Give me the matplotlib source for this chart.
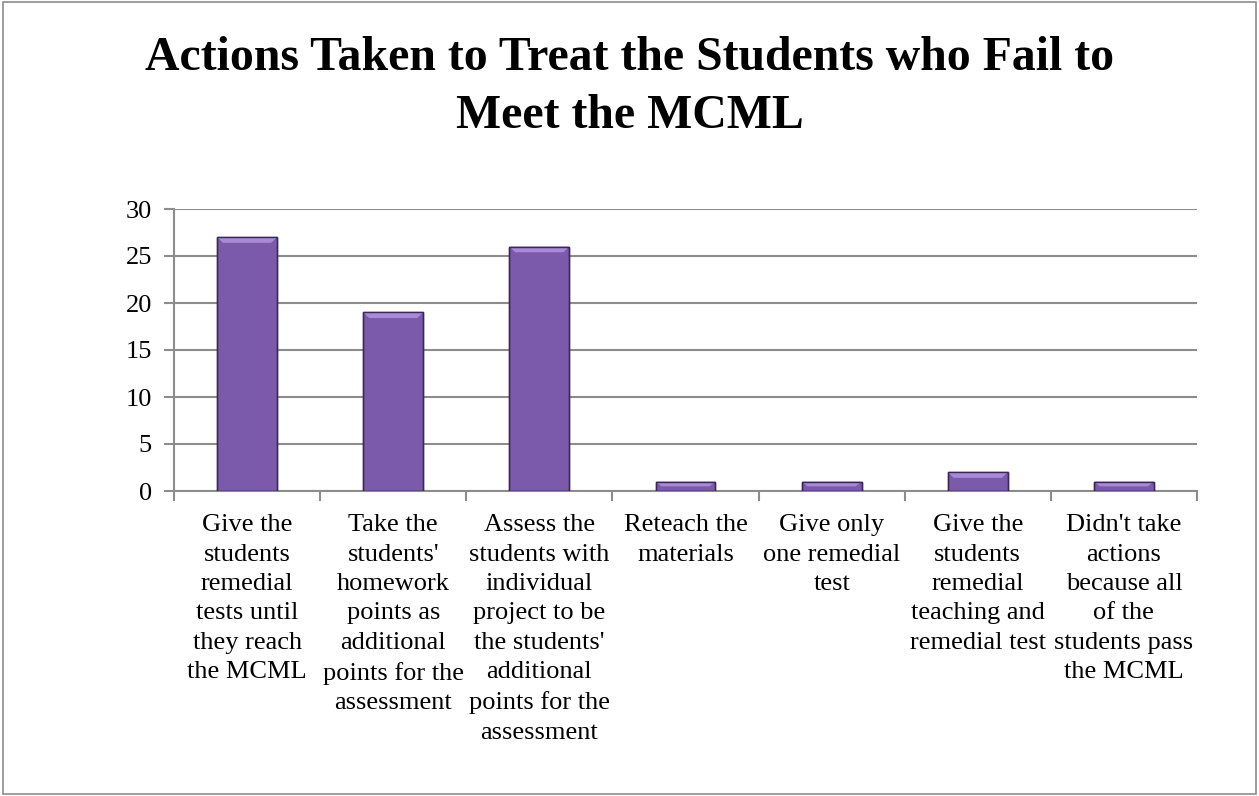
import numpy as np
import matplotlib.pyplot as plt
from matplotlib.patches import Rectangle, Polygon

# chart data
categories = [
    "Give the\nstudents\nremedial\ntests until\nthey reach\nthe MCML",
    "Take the\nstudents'\nhomework\npoints as\nadditional\npoints for the\nassessment",
    "Assess the\nstudents with\nindividual\nproject to be\nthe students'\nadditional\npoints for the\nassessment",
    "Reteach the\nmaterials",
    "Give only\none remedial\ntest",
    "Give the\nstudents\nremedial\nteaching and\nremedial test",
    "Didn't take\nactions\nbecause all\nof the\nstudents pass\nthe MCML",
]
counts = [27, 19, 26, 1, 1, 2, 1]
yticks = [0, 5, 10, 15, 20, 25, 30]

title = "Actions Taken to Treat the Students who Fail to\nMeet the MCML"

plt.rcParams['font.family'] = ['Liberation Serif', 'DejaVu Serif']

fig = plt.figure(figsize=(12.59, 7.96), dpi=100)
W, H = 1259, 796
ax = fig.add_axes([174 / W, 1 - 491 / H, (1197 - 174) / W, (491 - 209) / H])

x = np.arange(len(counts))
bw = 0.41
ax.bar(x, counts, width=bw, color='#7b5aab', edgecolor='#3b2858',
       linewidth=1.0, zorder=3)

# simple bevel: lighter top cap on each bar
for xi, v in zip(x, counts):
    cap = min(0.6, v * 0.5)
    inset = 0.04
    poly = Polygon([(xi - bw / 2, v), (xi + bw / 2, v),
                    (xi + bw / 2 - inset, v - cap), (xi - bw / 2 + inset, v - cap)],
                   closed=True, facecolor='#a88ad6', edgecolor='none', zorder=4)
    ax.add_patch(poly)
    ax.add_patch(Rectangle((xi - bw / 2, 0), bw, v, fill=False,
                           edgecolor='#3b2858', linewidth=1.0, zorder=5))

ax.set_xlim(-0.5, len(counts) - 0.5)
ax.set_ylim(0, 30)
ax.set_yticks(yticks)
ax.yaxis.grid(True, color='#8c8c8c', linewidth=1.5, zorder=0)
ax.set_axisbelow(True)
for s in ['top', 'right']:
    ax.spines[s].set_visible(False)
for s in ['left', 'bottom']:
    ax.spines[s].set_color('#8c8c8c')
    ax.spines[s].set_linewidth(1.5)

ax.tick_params(axis='y', length=7, width=1.5, color='#8c8c8c', labelsize=19, pad=9)
ax.set_xticks(np.arange(len(counts) + 1) - 0.5)
ax.set_xticklabels([])
ax.tick_params(axis='x', length=7, width=1.5, color='#8c8c8c')
for xi, lab in zip(x, categories):
    ax.text(xi, -2.45, lab, ha='center', va='top', fontsize=19,
            linespacing=1.44)

fig.text(0.5, 1 - 36 / H, title, ha='center', va='top', fontsize=34.4,
         fontweight='bold', linespacing=1.42)

fig.add_artist(Rectangle((0.002, 0.002), 0.996, 0.996, transform=fig.transFigure,
                         fill=False, edgecolor='#8c8c8c', linewidth=1.2))

fig.savefig('out.png', dpi=100)
